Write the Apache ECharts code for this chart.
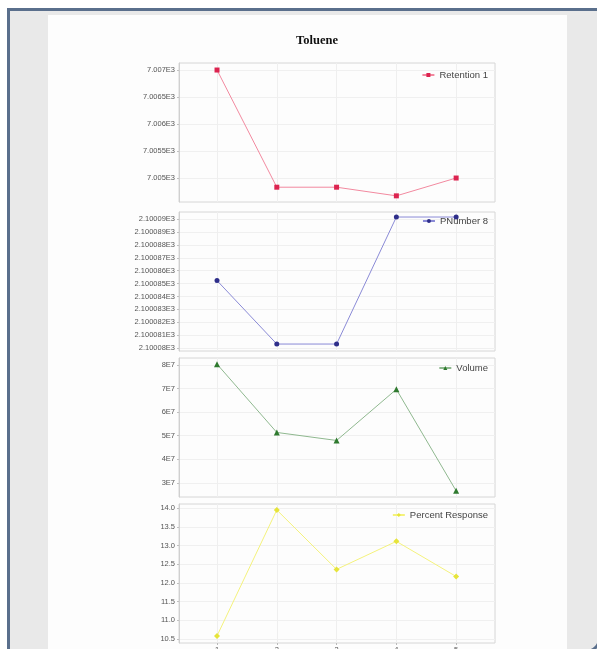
<!DOCTYPE html>
<html>
<head>
<meta charset="utf-8">
<title>Toluene</title>
<script src="https://cdn.jsdelivr.net/npm/echarts@6/dist/echarts.min.js"></script>
<style>
  html, body { margin: 0; padding: 0; background: #ffffff; overflow: hidden; }
  #page { position: relative; width: 597px; height: 649px; overflow: hidden; }
  #frame {
    position: absolute; left: 7px; top: 8px; width: 587px; height: 638px;
    border-left: 3px solid #5a6f8c; border-top: 3px solid #5a6f8c;
    background: #e9e9e9;
  }
  #corner { position: absolute; left: 0; top: 0; width: 597px; height: 649px; }
  #sheet {
    position: absolute; left: 48px; top: 15px; width: 519px; height: 634px;
    background: #fdfdfd;
  }
  #chart { position: absolute; left: 0; top: 0; width: 597px; height: 649px; }
</style>
</head>
<body>
<div id="page">
  <div id="frame"></div>
  <svg id="corner" width="597" height="649" viewBox="0 0 597 649">
    <path d="M 599.5 638 A 13.5 13.5 0 0 1 586 651.5" fill="none" stroke="#5a6f8c" stroke-width="3"/>
  </svg>
  <div id="sheet"></div>
  <div id="chart"></div>
</div>
<script>
// Injection runs on the x axis
const runs = [1, 2, 3, 4, 5];

// Series values per run
const retention = [7007.0, 7004.83, 7004.83, 7004.67, 7005.0];
const plateNumber = [2100.08523, 2100.08031, 2100.08031, 2100.09016, 2100.09016];
const volume = [8.04e7, 5.14e7, 4.80e7, 6.97e7, 2.66e7];
const percentResponse = [10.58, 13.95, 12.36, 13.11, 12.17];

// Tick values of each y axis
const retentionTicks = [7005, 7005.5, 7006, 7006.5, 7007];
const plateTicks = [2100.080, 2100.081, 2100.082, 2100.083, 2100.084, 2100.085,
                    2100.086, 2100.087, 2100.088, 2100.089, 2100.090];
const volumeTicks = [3e7, 4e7, 5e7, 6e7, 7e7, 8e7];
const responseTicks = [10.5, 11.0, 11.5, 12.0, 12.5, 13.0, 13.5, 14.0];

const legendNames = ['Retention 1', 'PNumber 8', 'Volume', 'Percent Response'];

const chart = echarts.init(document.getElementById('chart'), null, { renderer: 'canvas' });

const panelTops = [63, 212, 358, 504];
const panelHeight = 139;
const labelFont = 'Liberation Sans, Arial, sans-serif';

function stripZeros(s) {
  return s.indexOf('.') >= 0 ? s.replace(/0+$/, '').replace(/\.$/, '') : s;
}

const yDefs = [
  { ticks: retentionTicks, min: 7004.556, max: 7007.13,
    fmt: v => stripZeros((v / 1000).toFixed(5)) + 'E3' },
  { ticks: plateTicks, min: 2100.07977, max: 2100.09055,
    fmt: v => stripZeros((v / 1000).toFixed(7)) + 'E3' },
  { ticks: volumeTicks, min: 2.40e7, max: 8.30e7,
    fmt: v => Math.round(v / 1e7) + 'E7' },
  { ticks: responseTicks, min: 10.39, max: 14.11,
    fmt: v => v.toFixed(1) }
];

const seriesDefs = [
  { data: retention, line: '#f2899f', mark: '#dc2450', symbol: 'rect', size: 5 },
  { data: plateNumber, line: '#8a8ad6', mark: '#2e2e8a', symbol: 'circle', size: 5 },
  { data: volume, line: '#8fb88f', mark: '#2f7a2f', symbol: 'triangle', size: 6 },
  { data: percentResponse, line: '#f4f27c', mark: '#e6e43a', symbol: 'diamond', size: 6 }
];

const legendPos = [
  { top: 65, right: 104 },
  { top: 211, right: 104 },
  { top: 358, right: 104 },
  { top: 505, right: 104 }
];

const option = {
  animation: false,
  backgroundColor: 'transparent',
  title: {
    text: 'Toluene',
    left: 312, top: 29, textAlign: 'center',
    textStyle: { fontFamily: 'Liberation Serif, Times New Roman, serif', fontWeight: 'bold',
                 fontSize: 12.5, color: '#111' }
  },
  grid: panelTops.map(t => ({
    left: 179, right: 102, top: t, height: panelHeight,
    outerBoundsMode: 'none', containLabel: false,
    show: true, borderColor: '#d6d6d6', borderWidth: 1, backgroundColor: 'transparent'
  })),
  xAxis: panelTops.map((t, i) => ({
    type: 'value', gridIndex: i, min: 0.364, max: 5.65,
    axisLine: { show: false },
    axisTick: { show: i === 3, length: 2, lineStyle: { color: '#bbb' }, customValues: runs },
    axisLabel: { show: i === 3, customValues: runs, fontSize: 7.5, color: '#555',
                 fontFamily: labelFont, margin: 3 },
    splitLine: { show: true, lineStyle: { color: '#efefef', width: 1 } }
  })),
  yAxis: yDefs.map((d, i) => ({
    type: 'value', gridIndex: i, min: d.min, max: d.max, scale: true,
    axisLine: { show: true, lineStyle: { color: '#d0d0d0' } },
    axisTick: { show: true, length: 2, lineStyle: { color: '#c0c0c0' }, customValues: d.ticks },
    axisLabel: { customValues: d.ticks, formatter: d.fmt, fontSize: 7.5, color: '#555',
                 fontFamily: labelFont, margin: 4 },
    splitLine: { show: true, lineStyle: { color: '#f0f0f0', width: 1 } }
  })),
  legend: seriesDefs.map((s, i) => ({
    data: [legendNames[i]],
    top: legendPos[i].top, right: legendPos[i].right,
    itemWidth: 12, itemHeight: 5, itemGap: 4,
    textStyle: { fontSize: 9.5, color: '#444', fontFamily: labelFont }
  })),
  series: seriesDefs.map((s, i) => ({
    name: legendNames[i],
    type: 'line',
    xAxisIndex: i, yAxisIndex: i,
    data: runs.map((r, k) => [r, s.data[k]]),
    symbol: s.symbol, symbolSize: s.size, showSymbol: true,
    lineStyle: { color: s.line, width: 1 },
    itemStyle: { color: s.mark },
    z: 3
  }))
};

chart.setOption(option);
</script>
</body>
</html>
